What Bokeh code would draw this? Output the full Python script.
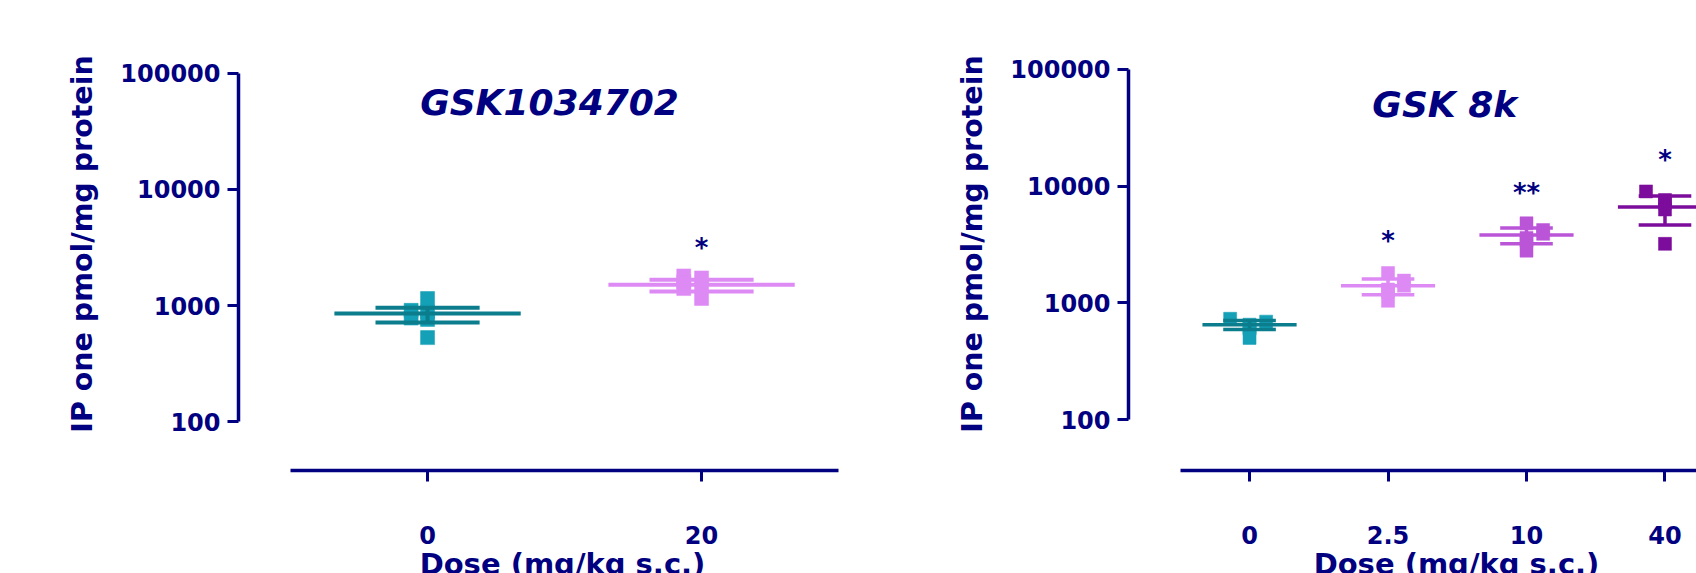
from bokeh.plotting import figure
from bokeh.models import Range1d, FixedTicker, Label, GlobalInlineStyleSheet
from bokeh.layouts import row
from bokeh.core.properties import value
from bokeh.embed import file_html
from bokeh.resources import INLINE

# ---------------- data ----------------
y_title = "IP one pmol/mg protein"
x_title = "Dose (mg/kg s.c.)"
y_ticks = [100, 1000, 10000, 100000]
y_tick_labels = ["100", "1000", "10000", "100000"]

left_title = "GSK1034702"
left_doses = ["0", "20"]
left_points = [
    [1150, 910, 880, 780, 760, 530],
    [1800, 1730, 1600, 1500, 1400, 1150],
]
left_jitter = [
    [0.0, -0.06, 0.0, -0.06, 0.0, 0.0],
    [-0.065, 0.0, -0.065, 0.0, -0.065, 0.0],
]
left_mean = [854, 1510]
left_sem_hi = [960, 1670]
left_sem_lo = [716, 1320]
left_sig = ["", "*"]
left_sig_y = [None, 3100]

right_title = "GSK 8k"
right_doses = ["0", "2.5", "10", "40"]
right_points = [
    [730, 690, 650, 620, 600, 500],
    [1800, 1550, 1400, 1300, 1250, 1040],
    [4800, 4200, 3900, 3600, 3400, 2800],
    [9000, 7600, 7200, 6300, 3200],
]
right_jitter = [
    [-0.14, 0.12, 0.0, 0.0, 0.0, 0.0],
    [0.0, 0.115, 0.115, 0.0, 0.0, 0.0],
    [0.0, 0.12, 0.12, 0.0, 0.0, 0.0],
    [-0.137, 0.0, 0.0, 0.0, 0.0],
]
right_mean = [649, 1400, 3810, 6610]
right_sem_hi = [705, 1600, 4380, 8220]
right_sem_lo = [590, 1170, 3200, 4640]
right_sig = ["", "*", "**", "*"]
right_sig_y = [None, 3400, 8800, 16800]

# ---------------- styles ----------------
NAVY = "#000080"
FONT = "DejaVu Sans"
left_point_colors = ["#14a0b6", "#de8af5"]
left_line_colors = ["#0b7d8d", "#de8af5"]
right_point_colors = ["#14a0b6", "#de8af5", "#bb55d8", "#7c0c9b"]
right_line_colors = ["#0b7d8d", "#de8af5", "#bb55d8", "#7c0c9b"]


def make_panel(width, borders, xr, yr, doses, title, title_pos,
               points, jitter, mean, hi, lo, sig, sig_y,
               pcolors, lcolors, msize, lw):
    bl, br, bt, bb = borders
    p = figure(width=width, height=640, x_range=Range1d(*xr), y_range=Range1d(*yr),
               y_axis_type="log", output_backend="svg", toolbar_location=None,
               min_border_left=bl, min_border_right=br, min_border_top=bt,
               min_border_bottom=bb)
    p.grid.visible = False
    p.outline_line_color = None
    p.background_fill_color = "white"
    p.border_fill_color = "white"

    n = len(doses)
    for ax in (p.xaxis[0], p.yaxis[0]):
        ax.axis_line_color = NAVY
        ax.axis_line_width = 3.5
        ax.major_tick_line_color = NAVY
        ax.major_tick_line_width = 3
        ax.major_tick_in = 0
        ax.major_tick_out = 11
        ax.minor_tick_line_color = None
        ax.major_label_text_font = FONT
        ax.major_label_text_font_size = "24px"
        ax.major_label_text_font_style = "bold"
        ax.major_label_text_color = NAVY
        ax.axis_label_text_font = FONT
        ax.axis_label_text_font_style = "bold"
        ax.axis_label_text_color = NAVY

    yax = p.yaxis[0]
    yax.ticker = FixedTicker(ticks=y_ticks)
    yax.major_label_overrides = {t: l for t, l in zip(y_ticks, y_tick_labels)}
    yax.bounds = (y_ticks[0], y_ticks[-1])
    yax.major_label_standoff = 7
    yax.axis_label = y_title
    yax.axis_label_text_font_size = "28.5px"
    yax.axis_label_standoff = 18

    xax = p.xaxis[0]
    xax.ticker = FixedTicker(ticks=list(range(n)))
    xax.major_label_overrides = {i: d for i, d in enumerate(doses)}
    xax.bounds = (-0.5, n - 0.5)
    xax.major_label_standoff = 44
    xax.axis_label = x_title
    xax.axis_label_text_font_size = "29px"
    xax.axis_label_standoff = 0

    # individual points
    for i in range(n):
        xs = [i + j for j in jitter[i]]
        p.scatter(xs, points[i], marker="square", size=msize,
                  fill_color=pcolors[i], line_color=pcolors[i], line_width=0.5)
    # mean lines, SEM bars and caps
    for i in range(n):
        c = lcolors[i]
        p.segment(x0=[i - 0.34], y0=[mean[i]], x1=[i + 0.34], y1=[mean[i]],
                  line_color=c, line_width=lw)
        p.segment(x0=[i, i - 0.19, i - 0.19], y0=[lo[i], hi[i], lo[i]],
                  x1=[i, i + 0.19, i + 0.19], y1=[hi[i], hi[i], lo[i]],
                  line_color=c, line_width=lw)
    # significance stars
    sx = [i for i in range(n) if sig[i]]
    p.text(x=sx, y=[sig_y[i] for i in sx], text=[sig[i] for i in sx],
           text_font=value(FONT), text_font_size="26px", text_font_style="bold",
           text_color=NAVY, text_align="center", text_baseline="middle")

    p.add_layout(Label(x=title_pos[0], y=title_pos[1], text=title,
                       text_font=FONT, text_font_size="36px",
                       text_font_style="bold italic", text_color=NAVY,
                       text_align="center", text_baseline="middle"))
    return p


p1 = make_panel(900, (238, 14, 17, 167), (-0.69, 1.675), (38.1, 301000),
                left_doses, left_title, (0.445, 55500),
                left_points, left_jitter, left_mean, left_sem_hi, left_sem_lo,
                left_sig, left_sig_y, left_point_colors, left_line_colors, 14, 4)

p2 = make_panel(894, (228, 10, 16, 170), (-0.874, 3.863), (36.6, 278200),
                right_doses, right_title, (1.41, 50200),
                right_points, right_jitter, right_mean, right_sem_hi, right_sem_lo,
                right_sig, right_sig_y, right_point_colors, right_line_colors, 13, 3.5)

p1.stylesheets = [GlobalInlineStyleSheet(css="html, body { overflow: hidden !important; }")]

layout = row(p1, p2)
open("out.html", "w").write(file_html(layout, INLINE))
